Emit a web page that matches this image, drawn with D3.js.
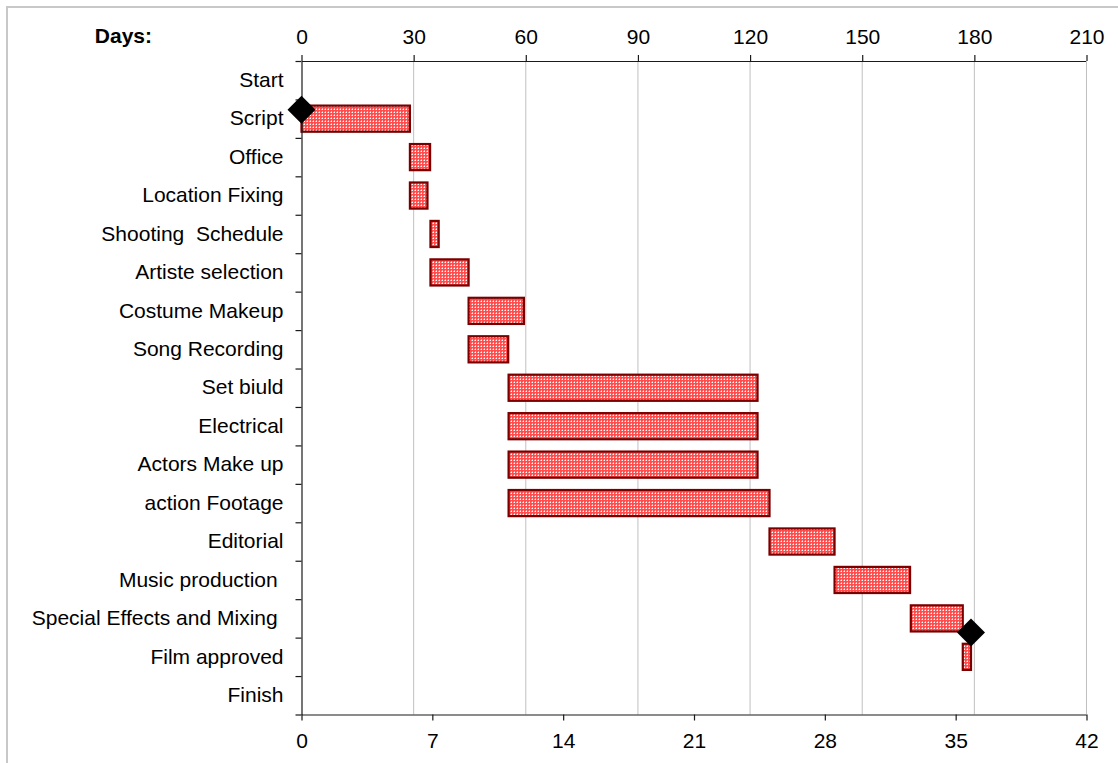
<!DOCTYPE html>
<html>
<head>
<meta charset="utf-8">
<script src="https://cdn.jsdelivr.net/npm/d3@7"></script>
<style>
  html, body { margin: 0; padding: 0; background: #fff; }
  svg text { font-family: "Liberation Sans", Arial, sans-serif; white-space: pre; }
</style>
</head>
<body>
<svg id="chart" width="1118" height="763"></svg>
<script>
const tasks = ["Start", "Script", "Office", "Location Fixing", "Shooting  Schedule",
  "Artiste selection", "Costume Makeup", "Song Recording", "Set biuld", "Electrical",
  "Actors Make up", "action Footage", "Editorial", "Music production ",
  "Special Effects and Mixing ", "Film approved", "Finish"];
const startDay = [null, 0, 29, 29, 34.5, 34.5, 44.7, 44.7, 55.4, 55.4, 55.4, 55.4, 125.2, 142.6, 163, 176.9, null];
const durationDays = [null, 29, 5.4, 4.7, 2.2, 10.2, 14.8, 10.6, 66.6, 66.6, 66.6, 69.8, 17.4, 20.2, 13.9, 2.2, null];
const milestoneDay = [0, 179.1];
const milestoneRow = [1.27, 14.87];
const dayTicks = [0, 30, 60, 90, 120, 150, 180, 210];
const weekTicks = [0, 7, 14, 21, 28, 35, 42];

const svg = d3.select("#chart");
const plotL = 301.5, plotR = 1086.5, plotT = 61, plotB = 714.5;
const FS = "21px";

// outer frame
svg.append("rect").attr("x", 7).attr("y", 7).attr("width", 1130).attr("height", 780)
  .attr("fill", "none").attr("stroke", "#c8c8c8").attr("stroke-width", 2);

// pattern
const defs = svg.append("defs");
const pat = defs.append("pattern").attr("id", "chk").attr("patternUnits", "userSpaceOnUse")
  .attr("width", 3).attr("height", 3);
pat.append("rect").attr("width", 3).attr("height", 3).attr("fill", "#ff4d4d");
pat.append("rect").attr("x", 1).attr("y", 0).attr("width", 1).attr("height", 1).attr("fill", "#ffa0a0");
pat.append("rect").attr("x", 0).attr("y", 1).attr("width", 1).attr("height", 1).attr("fill", "#ffa0a0");
pat.append("rect").attr("x", 1).attr("y", 1).attr("width", 1).attr("height", 1).attr("fill", "#ffffff");

const x = d3.scaleLinear().domain([0, 210]).range([plotL, plotR]);
const xw = d3.scaleLinear().domain([0, 42]).range([plotL, plotR]);
const yRow = d3.scaleLinear().domain([0, tasks.length]).range([plotT, plotB]);
const yBand = d3.scaleBand().domain(tasks).range([plotT, plotB]).paddingInner(0.32).paddingOuter(0.16);

// gridlines
svg.append("g").selectAll("line").data(dayTicks.filter(d => d > 0)).join("line")
  .attr("x1", d => x(d)).attr("x2", d => x(d))
  .attr("y1", plotT).attr("y2", plotB)
  .attr("stroke", "#c0c0c0").attr("stroke-width", 1);

// bars
const barData = tasks.map((t, i) => ({ t, s: startDay[i], d: durationDays[i] })).filter(d => d.s !== null);
svg.append("g").selectAll("rect").data(barData).join("rect")
  .attr("x", d => x(d.s)).attr("width", d => x(d.s + d.d) - x(d.s))
  .attr("y", d => yBand(d.t)).attr("height", yBand.bandwidth())
  .attr("fill", "url(#chk)").attr("stroke", "#7a0000").attr("stroke-width", 2.2);

// axes
function styleAxis(g) {
  g.selectAll("path, line").attr("stroke", "#1a1a1a").attr("stroke-width", 1.2);
  g.selectAll("text").attr("fill", "#000").style("font-size", FS)
    .style("font-family", '"Liberation Sans", Arial, sans-serif');
}
const topAxis = svg.append("g").attr("transform", `translate(0,${plotT})`)
  .call(d3.axisTop(x).tickValues(dayTicks).tickSize(6).tickSizeOuter(0).tickPadding(11.5).tickFormat(d3.format("d")));
styleAxis(topAxis);
const botAxis = svg.append("g").attr("transform", `translate(0,${plotB})`)
  .call(d3.axisBottom(xw).tickValues(weekTicks).tickSize(6).tickSizeOuter(0).tickPadding(13).tickFormat(d3.format("d")));
styleAxis(botAxis);
const leftTicks = svg.append("g").attr("transform", `translate(${plotL},0)`)
  .call(d3.axisLeft(yRow).tickValues(d3.range(0, tasks.length + 1)).tickSize(6).tickSizeOuter(0).tickFormat(""));
styleAxis(leftTicks);
const leftLabels = svg.append("g").attr("transform", `translate(${plotL},0)`)
  .call(d3.axisLeft(yBand).tickSize(0).tickPadding(18));
leftLabels.select(".domain").remove();
styleAxis(leftLabels);
// right border of plot
svg.append("line").attr("x1", x(210)).attr("x2", x(210)).attr("y1", plotT).attr("y2", plotB)
  .attr("stroke", "#c0c0c0").attr("stroke-width", 1);

// Days label
svg.append("text").attr("x", 152).attr("y", 43.3).attr("text-anchor", "end")
  .style("font-size", FS).style("font-weight", "bold").text("Days:");

// milestones
svg.append("g").selectAll("path").data(milestoneDay.map((d, i) => ({ d, r: milestoneRow[i] }))).join("path")
  .attr("d", d3.symbol(d3.symbolSquare, 392)())
  .attr("transform", d => `translate(${x(d.d)},${yRow(d.r)}) rotate(45)`)
  .attr("fill", "#000");
</script>
</body>
</html>
